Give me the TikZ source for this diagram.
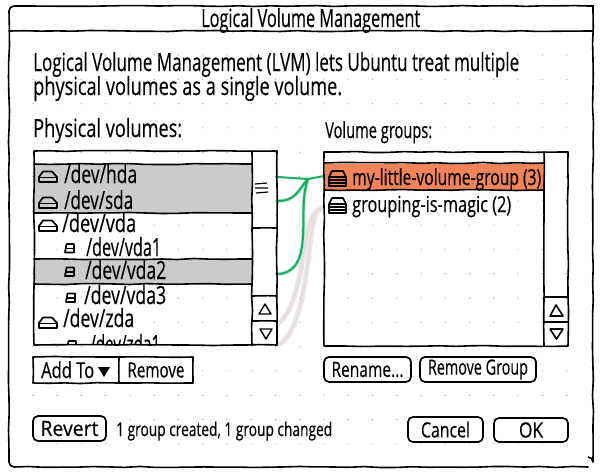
\documentclass[tikz,border=0pt]{standalone}
\usepackage{graphicx}
\usepackage{fontspec}
\setmainfont{Open Sans}[FakeBold=0.35]
\usetikzlibrary{decorations.pathmorphing}
\definecolor{selgrey}{HTML}{CBCCCA}
\definecolor{selorange}{HTML}{F28457}
\definecolor{linkgreen}{HTML}{17B060}
\definecolor{linkhalo}{HTML}{A8E6C4}
\definecolor{ghost}{HTML}{E6E6E6}
\definecolor{ghostpink}{HTML}{F8C8C8}
\definecolor{dotgrey}{HTML}{8A8A8A}
\newsavebox\handbox
\newcommand\hand[2]{\sbox\handbox{#2}\pgfmathsetmacro\handscale{#1/\wd\handbox}\scalebox{\handscale}[1]{\usebox\handbox}}
\tikzset{
  sk/.style={line width=1.6pt,black,line cap=round,line join=round,decorate,
    decoration={random steps,segment length=16pt,amplitude=0.55pt}},
  btn/.style={sk,draw,fill=white,inner sep=0pt,font=\fontsize{21}{21}\selectfont},
  rbtn/.style={draw,line width=1.7pt,fill=white,inner sep=0pt,rounded corners=5pt,font=\fontsize{21}{21}\selectfont},
  txtbig/.style={inner sep=0pt,anchor=base west,font=\fontsize{25}{25}\selectfont},
  txtmid/.style={inner sep=0pt,anchor=base west,font=\fontsize{22}{22}\selectfont},
  txtsmall/.style={inner sep=0pt,anchor=base west,font=\fontsize{19}{19}\selectfont},
  greenlink/.style={linkgreen,line width=2pt,line cap=round},
  halolink/.style={linkhalo,line width=3.4pt,line cap=round},
  ghostlink/.style={ghost,line width=5pt,line cap=round},
  ghostdots/.style={ghostpink,line width=1pt,densely dotted},
  diskicon/.pic={
    \draw[line width=1.7pt,line join=round] (0,6) -- (4,0.5) -- (13,0.5) -- (18,6) -- (18,11) -- (0,11) -- cycle;
    \draw[line width=1.7pt] (0,6.5) -- (18,6.5);
  },
  particon/.pic={
    \draw[line width=1.7pt,line join=round] (1.5,0) -- (9,0) -- (9,8.5) -- (0,8.5) -- cycle;
    \draw[line width=1.5pt] (0.5,4.5) -- (9,4.5);
  },
  groupicon/.pic={
    \draw[line width=1.6pt,line join=round] (0,6) -- (3,0) -- (14,0) -- (17,6) -- (17,15) -- (0,15) -- cycle;
    \draw[line width=1.8pt] (0,6) -- (17,6) (0,9.2) -- (17,9.2) (0,12.2) -- (17,12.2);
  }
}
\begin{document}
\begin{tikzpicture}[x=1pt,y=-1pt]
\pgfmathsetseed{11}
\useasboundingbox (0,0) rectangle (600,472);
\fill[white] (0,0) rectangle (600,472);
% dot grid
\foreach \i in {0,...,22}{\foreach \j in {0,...,16}{
  \fill[dotgrey] ({33+24.25*\i},{55+24.3*\j}) circle (0.55pt);}}
% window
\draw[sk] (14,6) -- (588,6);
\draw[sk] (593,11) -- (593,462);
\draw[sk] (588,467) -- (14,467);
\draw[sk] (9,462) -- (9,11);
\draw[line width=1.6pt] (9,11) arc[start angle=180,end angle=270,x radius=5pt,y radius=-5pt];
\draw[line width=1.6pt] (588,6) -- (593,6) -- (593,11);
\draw[line width=1.6pt] (593,462) arc[start angle=0,end angle=90,x radius=5pt,y radius=5pt];
\draw[line width=1.6pt] (14,467) arc[start angle=270,end angle=180,x radius=5pt,y radius=5pt];
\draw[sk] (9,31) -- (593,31);
\node[txtbig] (title) at (201,27) {\hand{219}{Logical Volume Management}};
\node[txtbig] (intro1) at (33,71) {\hand{486}{Logical Volume Management (LVM) lets Ubuntu treat multiple}};
\node[txtbig] (intro2) at (33,95) {\hand{309}{physical volumes as a single volume.}};
\node[txtbig] (pvlabel) at (33,137) {\hand{149}{Physical volumes:}};
\node[txtmid] (vglabel) at (325,138) {\hand{107}{Volume groups:}};
% ghost connectors
\coordinate (ghostA) at (280,322);
\coordinate (ghostB) at (280,344);
\coordinate (vg2) at (322,208);
\draw[ghostlink] (ghostA) .. controls (298,305) and (302,260) .. (306,240) .. controls (309,222) and (312,212) .. (vg2);
\draw[ghostlink] (ghostB) .. controls (300,330) and (306,280) .. (310,245) .. controls (312,225) and (314,212) .. (vg2);
\draw[ghostdots] (ghostA) .. controls (298,305) and (302,260) .. (306,240) .. controls (309,222) and (312,212) .. (vg2);
\draw[ghostdots] (ghostB) .. controls (300,330) and (306,280) .. (310,245) .. controls (312,225) and (314,212) .. (vg2);
% green connectors
\coordinate (pv1) at (278,177);
\coordinate (pv2) at (278,201);
\coordinate (pv3) at (279,274);
\coordinate (vg1) at (324,176);
\coordinate (junction) at (308,179);
\draw[halolink] (pv2) .. controls (296,201) and (298,190) .. (junction);
\draw[halolink] (pv3) .. controls (298,272) and (302,255) .. (303,235) .. controls (304,215) and (302,195) .. (junction);
\draw[greenlink] (pv1) -- (junction) -- (vg1);
\draw[greenlink] (pv2) .. controls (296,201) and (298,190) .. (junction);
\draw[greenlink] (pv3) .. controls (298,272) and (302,255) .. (303,235) .. controls (304,215) and (302,195) .. (junction);
% left list
\fill[selgrey] (35,164) rectangle (252,213);
\fill[selgrey] (35,259) rectangle (252,284);
\draw[sk] (34,151) -- (277,151) -- (277,345) -- (34,345) -- cycle;
\draw[sk] (34,164) -- (252,164);
\draw[sk] (34,213) -- (252,213);
\draw[sk] (34,259) -- (252,259);
\draw[sk] (34,284) -- (252,284);
\draw[sk] (252,151) -- (252,345);
\draw[sk] (252,228) -- (277,228);
\draw[sk] (252,296) -- (277,296);
\draw[sk] (252,321) -- (277,321);
\draw[line width=1.2pt] (255,184) -- (267,183) (255,188) -- (268,188) (256,193) -- (268,192);
\draw[line width=1.4pt,line join=round] (259,314) -- (265,304) -- (271,314) -- cycle;
\draw[line width=1.4pt,line join=round] (260,329) -- (272,329) -- (266,339) -- cycle;
\pic at (39,171) {diskicon};
\pic at (39,197) {diskicon};
\pic at (39,220) {diskicon};
\pic at (39,317) {diskicon};
\pic at (65,244) {particon};
\pic at (65,267.5) {particon};
\pic at (66,293.5) {particon};
\node[txtbig] (hda) at (64,183) {\hand{73}{/dev/hda}};
\node[txtbig] (sda) at (64,209) {\hand{69}{/dev/sda}};
\node[txtbig] (vda) at (62,232) {\hand{74}{/dev/vda}};
\node[txtbig] (vdaone) at (86,256) {\hand{75}{/dev/vda1}};
\node[txtbig] (vdatwo) at (85,279) {\hand{81}{/dev/vda2}};
\node[txtbig] (vdathree) at (84,304) {\hand{82}{/dev/vda3}};
\node[txtbig] (zda) at (63,327) {\hand{71}{/dev/zda}};
\begin{scope}
  \clip (35,330) rectangle (252,344);
  \pic at (67,341) {particon};
  \node[txtbig] (zdaone) at (90,353) {\hand{70}{/dev/zda1}};
\end{scope}
% right list
\fill[selorange] (325,164) rectangle (544,190);
\draw[sk] (324,152) -- (568,152) -- (568,346) -- (324,346) -- cycle;
\draw[sk] (324,163) -- (544,163);
\draw[sk] (324,190) -- (544,190);
\draw[sk] (544,152) -- (544,346);
\draw[sk] (544,297) -- (568,297);
\draw[sk] (544,322) -- (568,322);
\draw[line width=1.6pt,line join=round] (550,316) -- (556,305) -- (563,316) -- cycle;
\draw[line width=1.6pt,line join=round] (550,329) -- (563,329) -- (556.5,339) -- cycle;
\pic at (329,171) {groupicon};
\pic at (329,198) {groupicon};
\node[txtmid] (vgone) at (352,185) {\hand{189}{my-little-volume-group (3)}};
\node[txtmid] (vgtwo) at (352,212) {\hand{159}{grouping-is-magic (2)}};
% buttons
\node[btn,minimum width=86pt,minimum height=26pt] (addto) at (76,370) {};
\node[btn,minimum width=74pt,minimum height=26pt] (remove) at (156,370) {\hand{57}{Remove}};
\node[txtmid] (addtolabel) at (41,378) {\hand{53}{Add To}};
\fill (98,367) -- (110,367) -- (104,377) -- cycle;
\node[rbtn,minimum width=87pt,minimum height=25pt] (rename) at (367.5,369.5) {\hand{72}{Rename...}};
\node[rbtn,minimum width=116pt,minimum height=25pt] (removegroup) at (478,369.5) {\hand{100}{Remove Group}};
\node[rbtn,minimum width=73pt,minimum height=25pt] (revert) at (69.5,428.5) {\hand{58}{Revert}};
\node[rbtn,minimum width=75pt,minimum height=25pt] (cancel) at (445.5,429.5) {\hand{49}{Cancel}};
\node[rbtn,minimum width=74pt,minimum height=24pt] (ok) at (531,430) {\hand{24}{OK}};
\node[txtsmall] (status) at (116,436) {\hand{216}{1 group created, 1 group changed}};
\end{tikzpicture}
\end{document}
